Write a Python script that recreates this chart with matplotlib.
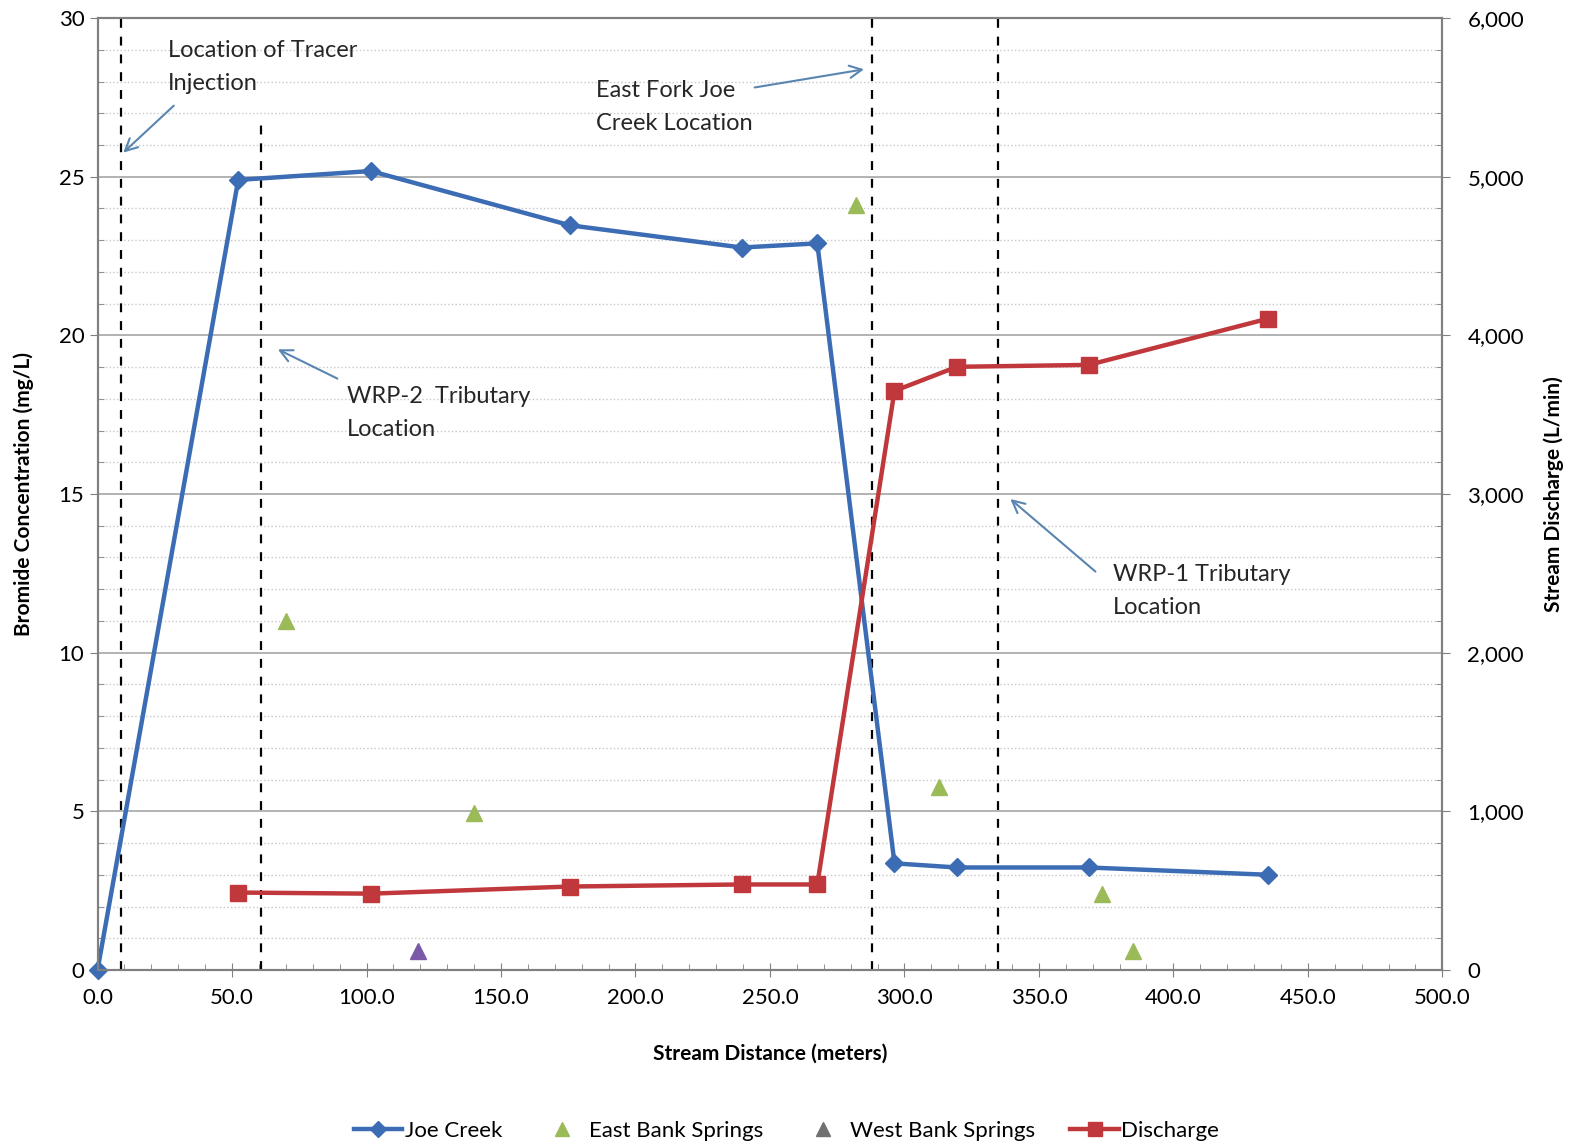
import matplotlib
matplotlib.use('Agg')
import matplotlib.pyplot as plt
from matplotlib.lines import Line2D
from matplotlib.ticker import MultipleLocator, FuncFormatter

plt.rcParams['font.family'] = ['Lato', 'DejaVu Sans']

# data
joe_x = [0, 52.3, 101.6, 175.6, 239.5, 267.6, 296.3, 319.5, 368.5, 435.3]
joe_y = [0.0, 24.9, 25.18, 23.47, 22.77, 22.9, 3.36, 3.23, 3.23, 3.0]
dis_x = [52.3, 101.6, 175.6, 239.5, 267.6, 296.3, 319.5, 368.5, 435.3]
dis_y = [488, 481, 526, 539, 539, 3650, 3802, 3814, 4106]
east_x = [69.9, 140.1, 282.1, 312.8, 373.3, 384.9]
east_y = [10.99, 4.94, 24.1, 5.77, 2.41, 0.6]
west_x = [119.2]
west_y = [0.6]
vlines_full = [8.6, 288.1, 334.8]
vline_short = (60.9, 26.8)

BLUE = '#3B6CB4'
RED = '#C0383B'
GREEN = '#9BBB59'
PURPLE = '#7A5AA8'
ARROW = '#5A85B0'
GRID = '#A6A6A6'

fig = plt.figure(figsize=(15.76, 11.46), dpi=100)
ax = fig.add_axes([0.0619, 0.1536, 0.8533, 0.8306])
ax2 = ax.twinx()

ax.set_xlim(0, 500)
ax.set_ylim(0, 30)
ax2.set_ylim(0, 6000)

ax.yaxis.set_major_locator(MultipleLocator(5))
ax.yaxis.set_minor_locator(MultipleLocator(1))
ax.xaxis.set_major_locator(MultipleLocator(50))
ax.xaxis.set_minor_locator(MultipleLocator(10))
ax2.yaxis.set_major_locator(MultipleLocator(1000))
ax2.yaxis.set_minor_locator(MultipleLocator(200))
ax.xaxis.set_major_formatter(FuncFormatter(lambda v, p: f'{v:.1f}'))
ax2.yaxis.set_major_formatter(FuncFormatter(lambda v, p: f'{int(v):,}'))

ax.grid(which='major', axis='y', color=GRID, lw=1.2, ls='-')
ax.grid(which='minor', axis='y', color='#C8C8C8', lw=1.0, ls=':')
ax.set_axisbelow(True)

for a in (ax, ax2):
    for s in a.spines.values():
        s.set_color('#808080')
        s.set_linewidth(1.5)
ax.tick_params(which='major', axis='y', length=6, color='#808080', labelsize=16, direction='out')
ax.tick_params(which='minor', axis='y', length=4, color='#808080', direction='in')
ax.tick_params(which='major', axis='x', length=10, color='#808080', labelsize=16, direction='inout', pad=8)
ax.tick_params(which='minor', axis='x', length=4, color='#808080', direction='in')
ax2.tick_params(which='major', axis='y', length=6, color='#808080', labelsize=16, direction='out', pad=12)
ax2.tick_params(which='minor', axis='y', length=4, color='#808080', direction='in')

for xv in vlines_full:
    ax.axvline(xv, color='black', ls=(0, (4, 4)), lw=1.6, zorder=3)
ax.plot([vline_short[0], vline_short[0]], [0, vline_short[1]], color='black',
        ls=(0, (4, 4)), lw=1.6, zorder=3)

ax.plot(joe_x, joe_y, color=BLUE, lw=3.2, marker='D', ms=9, zorder=5, clip_on=False)
ax.plot(east_x, east_y, ls='none', marker='^', color=GREEN, ms=11, zorder=5)
ax.plot(west_x, west_y, ls='none', marker='^', color=PURPLE, ms=11, zorder=5)
ax2.plot(dis_x, dis_y, color=RED, lw=3.2, marker='s', ms=12, zorder=5)

tkw = dict(fontsize=17, color='#262626', va='top', ha='left', linespacing=1.7)
akw = dict(arrowstyle='->', color=ARROW, lw=1.5, mutation_scale=22)
ax.text(26.2, 29.3, 'Location of Tracer\nInjection', **tkw)
ax.annotate('', xy=(8.8, 25.7), xytext=(29.1, 27.3), arrowprops=akw)
ax.text(92.7, 18.4, 'WRP-2  Tributary\nLocation', **tkw)
ax.annotate('', xy=(66.1, 19.6), xytext=(90.1, 18.6), arrowprops=akw)
ax.text(185.3, 28.05, 'East Fork Joe\nCreek Location', **tkw)
ax.annotate('', xy=(286.0, 28.4), xytext=(243.3, 27.8), arrowprops=akw)
ax.text(377.4, 12.8, 'WRP-1 Tributary\nLocation', **tkw)
ax.annotate('', xy=(338.6, 14.9), xytext=(371.8, 12.5), arrowprops=akw)

ax.set_xlabel('Stream Distance (meters)', fontsize=15, fontweight='bold', labelpad=26)
ax.set_ylabel('Bromide Concentration (mg/L)', fontsize=15, fontweight='bold', labelpad=18)
ax2.set_ylabel('Stream Discharge (L/min)', fontsize=15, fontweight='bold', rotation=90, labelpad=14)

handles = [
    Line2D([], [], color=BLUE, lw=3.2, marker='D', ms=8),
    Line2D([], [], ls='none', color=GREEN, marker='^', ms=10),
    Line2D([], [], ls='none', color='#707070', marker='^', ms=10),
    Line2D([], [], color=RED, lw=3.2, marker='s', ms=10),
]
labels = ['Joe Creek', 'East Bank Springs', 'West Bank Springs', 'Discharge']
fig.legend(handles, labels, loc='center', bbox_to_anchor=(0.499, 0.013), ncol=4,
           frameon=False, fontsize=16, handlelength=2.2, handletextpad=0.1, columnspacing=1.6)

fig.savefig('out.png', dpi=100)
